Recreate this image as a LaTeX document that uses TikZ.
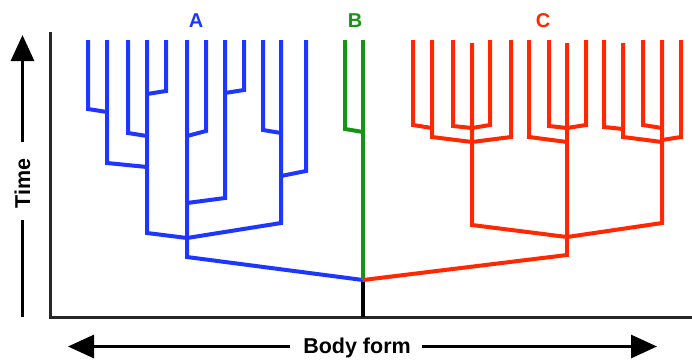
\documentclass[tikz,border=0pt]{standalone}
\usepackage{fontspec}
\setmainfont{Liberation Sans}
\usetikzlibrary{arrows.meta}
\definecolor{cladeA}{RGB}{30,55,255}
\definecolor{cladeB}{RGB}{20,150,20}
\definecolor{cladeC}{RGB}{255,40,0}
\tikzset{
  br/.style={line width=4pt, line join=miter, line cap=butt},
  blueline/.style={br, draw=cladeA},
  greenline/.style={br, draw=cladeB},
  redline/.style={br, draw=cladeC},
  axisline/.style={line width=3pt, draw=black!85, line join=miter},
  stemline/.style={line width=3.5pt, draw=black},
  arrowline/.style={line width=3pt, draw=black},
  tip/.style={-{Triangle[width=23pt,length=26pt]}},
  clabel/.style={font=\bfseries\fontsize{20}{24}\selectfont, anchor=base, inner sep=0pt},
  axlabel/.style={font=\bfseries\fontsize{21.5}{26}\selectfont, inner sep=0pt}
}
\begin{document}
\begin{tikzpicture}[x=1pt,y=-1pt]
\useasboundingbox (0,0) rectangle (692,360);
% junction points
\coordinate (root) at (363,280);
\coordinate (base) at (363,317);
\coordinate (jb1) at (107,112);
\coordinate (jb2) at (147,167);
\coordinate (jb3) at (147,136);
\coordinate (jb4) at (147,94);
\coordinate (jb5) at (187,238);
\coordinate (jb6) at (187,136);
\coordinate (jb7) at (225,93);
\coordinate (jb8) at (187,203);
\coordinate (jb9) at (281,133);
\coordinate (jb10) at (281,176);
\coordinate (jg1) at (363,132);
\coordinate (jr1) at (432,128);
\coordinate (jr2) at (472,142);
\coordinate (jr3) at (472,128);
\coordinate (jr4) at (567,237);
\coordinate (jr5) at (567,142);
\coordinate (jr6) at (567,128);
\coordinate (jr7) at (623,129);
\coordinate (jr8) at (662,142);
\coordinate (jr9) at (662,128);
\coordinate (jr10) at (662,140);
% axes
\draw[axisline] (50,32) -- (50,317) -- (692,317);
\draw[stemline] (root) -- (base);
% clade A (blue)
\draw[blueline] (88,40) -- (88,109) -- (jb1);
\draw[blueline] (107,40) -- (107,163) -- (jb2);
\draw[blueline] (128,40) -- (128,133) -- (jb3);
\draw[blueline] (166,40) -- (166,91) -- (jb4);
\draw[blueline] (147,40) -- (147,233) -- (jb5);
\draw[blueline] (206,40) -- (206,131) -- (jb6);
\draw[blueline] (244,40) -- (244,90) -- (jb7);
\draw[blueline] (225,40) -- (225,198) -- (jb8);
\draw[blueline] (263,40) -- (263,130) -- (jb9);
\draw[blueline] (306,40) -- (306,171) -- (jb10);
\draw[blueline] (281,40) -- (281,223) -- (jb5);
\draw[blueline] (187,40) -- (187,257) -- (root);
% clade B (green)
\draw[greenline] (345,40) -- (345,129) -- (jg1);
\draw[greenline] (363,40) -- (root);
% clade C (red)
\draw[redline] (413,40) -- (413,125) -- (jr1);
\draw[redline] (432,40) -- (432,137) -- (jr2);
\draw[redline] (453,40) -- (453,126) -- (jr3);
\draw[redline] (490,40) -- (490,125) -- (jr3);
\draw[redline] (511,40) -- (511,137) -- (jr2);
\draw[redline] (472,43) -- (472,225) -- (jr4);
\draw[redline] (529,40) -- (529,137) -- (jr5);
\draw[redline] (549,40) -- (549,126) -- (jr6);
\draw[redline] (586,40) -- (586,125) -- (jr6);
\draw[redline] (567,43) -- (567,255) -- (root);
\draw[redline] (604,40) -- (604,127) -- (jr7);
\draw[redline] (623,43) -- (623,137) -- (jr8);
\draw[redline] (643,40) -- (643,125) -- (jr9);
\draw[redline] (681,40) -- (681,137) -- (jr10);
\draw[redline] (662,40) -- (662,223) -- (jr4);
% labels
\node[clabel, text=cladeA] (labA) at (196,27) {A};
\node[clabel, text=cladeB] (labB) at (355,27) {B};
\node[clabel, text=cladeC] (labC) at (543,27) {C};
% time axis label
\node[axlabel, rotate=90] (time) at (22.5,183.5) {Time};
\coordinate (tU0) at (22.5,142);
\coordinate (tU1) at (22.5,35);
\coordinate (tL0) at (22.5,220);
\coordinate (tL1) at (22.5,317);
\draw[arrowline, tip] (tU0) -- (tU1);
\draw[arrowline] (tL0) -- (tL1);
% body form label
\node[axlabel, anchor=base] (body) at (357,353) {Body form};
\coordinate (bL0) at (290,346.5);
\coordinate (bL1) at (68,346.5);
\coordinate (bR0) at (422,346.5);
\coordinate (bR1) at (657,346.5);
\draw[arrowline, tip] (bL0) -- (bL1);
\draw[arrowline, tip] (bR0) -- (bR1);
\end{tikzpicture}
\end{document}
